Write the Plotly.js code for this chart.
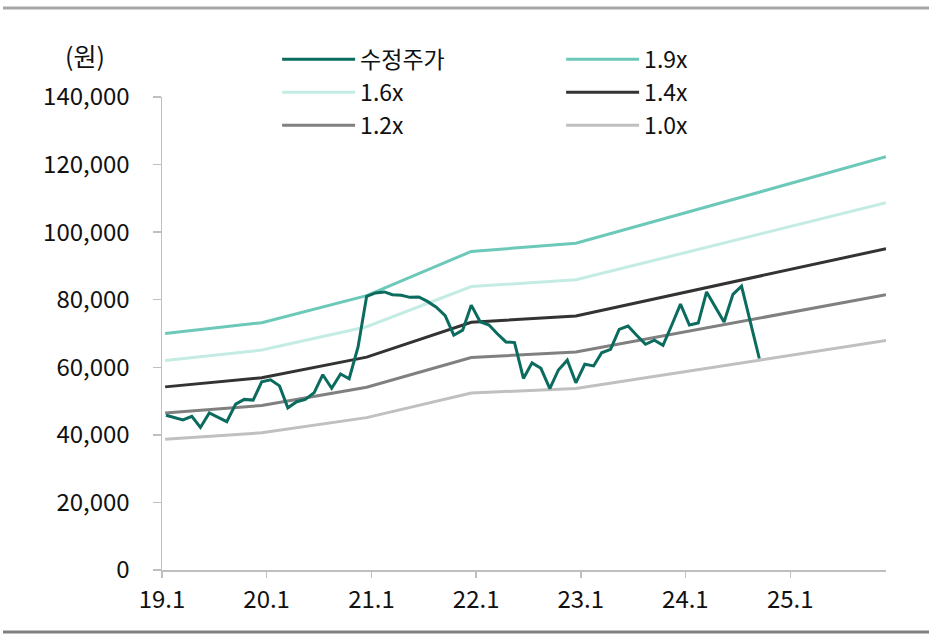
<!DOCTYPE html>
<html>
<head>
<meta charset="utf-8">
<script src="https://cdn.plot.ly/plotly-3.0.1.min.js"></script>
<style>
  html, body { margin: 0; padding: 0; background: #ffffff; }
  #chart { width: 932px; height: 640px; }
</style>
</head>
<body>
<div id="chart"></div>
<script>
// ---- data ----
// monthly adjusted share price (원), Jan 2019 .. Sep 2024
var priceStart = [2019, 1];
var priceValues = [
  45800, 45100, 44400, 45500, 42200, 46500, 45200, 43900, 49100, 50500, 50300, 55700,
  56300, 54500, 48000, 49800, 50500, 52500, 57800, 53800, 58000, 56600, 66000, 81000,
  82000, 82300, 81500, 81300, 80700, 80800, 79500, 77800, 75300, 69500, 71000, 78400,
  73500, 72500, 70000, 67500, 67300, 56700, 61300, 59700, 53700, 59200, 62100, 55400,
  60900, 60400, 64300, 65300, 71200, 72200, 69500, 66800, 68000, 66500, 72600, 78700,
  72500, 73100, 82300, 77900, 73400, 81600, 84000, 73300, 62600
];

// P/B band lines (원)
var bandDates = ['2019-01-12', '2019-12-15', '2020-12-15', '2021-12-15', '2022-12-15', '2025-12-01'];
var band19 = [70000, 73200, 81200, 94300, 96700, 122300];
var band16 = [62000, 65100, 72000, 83900, 85900, 108700];
var band14 = [54200, 56900, 63000, 73300, 75200, 95100];
var band12 = [46500, 48700, 54100, 62900, 64500, 81500];
var band10 = [38700, 40600, 45100, 52400, 53700, 67900];

var seriesNames = ['수정주가', '1.9x', '1.6x', '1.4x', '1.2x', '1.0x'];
var seriesColors = ['#0a6b5e', '#6cc9b9', '#c4ece4', '#333333', '#808080', '#c0c0c0'];

var xTickVals = ['2019-01-01', '2020-01-01', '2021-01-01', '2022-01-01', '2023-01-01', '2024-01-01', '2025-01-01'];
var xTickText = ['19.1', '20.1', '21.1', '22.1', '23.1', '24.1', '25.1'];
var yTickVals = [0, 20000, 40000, 60000, 80000, 100000, 120000, 140000];
var unitLabel = '(원)';

// monthly dates for the price series
var priceDates = [];
for (var i = 0; i < priceValues.length; i++) {
  var y = priceStart[0] + Math.floor((priceStart[1] - 1 + i) / 12);
  var m = ((priceStart[1] - 1 + i) % 12) + 1;
  priceDates.push(y + '-' + (m < 10 ? '0' + m : m) + '-15');
}

var FONT = '"Noto Sans CJK KR", "Noto Sans", sans-serif';

function lineTrace(x, y, idx) {
  return {
    type: 'scatter', mode: 'lines', x: x, y: y,
    name: seriesNames[idx],
    line: {color: seriesColors[idx], width: 3},
    hoverinfo: 'skip'
  };
}

var traces = [
  lineTrace(priceDates, priceValues, 0),
  lineTrace(bandDates, band19, 1),
  lineTrace(bandDates, band16, 2),
  lineTrace(bandDates, band14, 3),
  lineTrace(bandDates, band12, 4),
  lineTrace(bandDates, band10, 5)
];
// draw price on top
var drawOrder = [traces[1], traces[2], traces[3], traces[4], traces[5], traces[0]];
drawOrder.forEach(function (t, k) { t.legendrank = [2, 3, 4, 5, 6, 1][k]; });

var layout = {
  width: 932, height: 640,
  margin: {l: 162, r: 46, t: 97, b: 70, autoexpand: false},
  paper_bgcolor: '#ffffff', plot_bgcolor: '#ffffff',
  font: {family: FONT, size: 24, color: '#111111'},
  showlegend: true,
  legend: {
    orientation: 'h', x: 0.159, xanchor: 'left', y: 1.125, yanchor: 'top',
    itemwidth: 73, entrywidth: 196, entrywidthmode: 'pixels',
    bgcolor: 'rgba(0,0,0,0)', font: {family: FONT, size: 23, color: '#111111'},
    traceorder: 'normal', itemclick: false, itemdoubleclick: false
  },
  xaxis: {
    type: 'date', range: ['2019-01-01', '2025-12-01'],
    tickmode: 'array', tickvals: xTickVals, ticktext: xTickText,
    showgrid: false, zeroline: false,
    showline: true, linecolor: '#bfbfbf', linewidth: 1.5,
    ticks: 'outside', ticklen: 6, tickcolor: '#bfbfbf', tickwidth: 1.5,
    tickfont: {family: FONT, size: 24, color: '#111111'},
    ticklabelstandoff: 2
  },
  yaxis: {
    range: [0, 140000], tickmode: 'array', tickvals: yTickVals,
    tickformat: ',d',
    showgrid: false, zeroline: false,
    showline: true, linecolor: '#bfbfbf', linewidth: 1.5,
    ticks: 'outside', ticklen: 8, tickcolor: '#bfbfbf', tickwidth: 1.5,
    tickfont: {family: FONT, size: 24, color: '#111111'},
    ticklabelstandoff: 18
  },
  annotations: [{
    text: unitLabel, xref: 'paper', yref: 'paper',
    x: (85 - 162) / 724, y: (570 - 55) / 473,
    xanchor: 'center', yanchor: 'middle', showarrow: false,
    font: {family: FONT, size: 25, color: '#111111'}
  }],
  shapes: [
    {type: 'line', xref: 'paper', yref: 'paper',
     x0: (3 - 162) / 724, x1: (929 - 162) / 724, y0: (570 - 8) / 473, y1: (570 - 8) / 473,
     line: {color: '#a6a6a6', width: 3}},
    {type: 'line', xref: 'paper', yref: 'paper',
     x0: (3 - 162) / 724, x1: (929 - 162) / 724, y0: (570 - 632) / 473, y1: (570 - 632) / 473,
     line: {color: '#808080', width: 3}}
  ]
};

Plotly.newPlot('chart', drawOrder, layout, {staticPlot: true, displayModeBar: false});
</script>
</body>
</html>
